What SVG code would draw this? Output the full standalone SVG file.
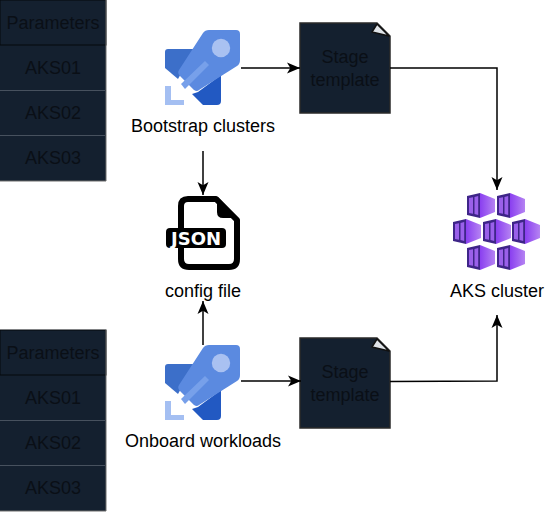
<svg xmlns="http://www.w3.org/2000/svg" xmlns:xlink="http://www.w3.org/1999/xlink" width="545" height="513" viewBox="0 0 545 513">
<style>
text{font-family:"Liberation Sans",Arial,sans-serif;font-size:18px;text-anchor:middle}
.lbl{fill:#000}
.dk{fill:#0a0f16}
.cell{fill:#14202f;stroke:none}
.hdr{fill:#14202f;stroke:#05080c;stroke-width:1}
.sep{stroke:#47515e;stroke-width:1;fill:none}
.frame{fill:none;stroke:#6c6c6c;stroke-width:1}
.doc{fill:#14202f;stroke:#2a2a2a;stroke-width:1.5}
.con{fill:none;stroke:#000;stroke-width:1.5}
</style>
<defs>
<marker id="arr" markerUnits="userSpaceOnUse" markerWidth="14" markerHeight="12" refX="13" refY="6" orient="auto">
<path d="M0,0.5L13,6L0,11.5L3.3,6Z" fill="#000"/>
</marker>
<linearGradient id="cg" x1="0" y1="0" x2="1" y2="0">
<stop offset="0" stop-color="#8a3ff0"/><stop offset="1" stop-color="#b583f2"/>
</linearGradient>
<g id="rocket">
<path d="M165,52Q165,49 168,49L195,49L178,79L165,68Z" fill="#3c6fc9"/>
<path d="M198,92L221,75L221,101Q221,105 217,105L203,105L192,94Z" fill="#2259c2"/>
<path d="M165,86H171V100H184V105H165Z" fill="#a4bff2"/>
<path d="M203,33Q205,30 209,30L236,30Q240,30 240,34L240,60Q240,64 237,66L199,90Q197,92 194,90L180,76Q177,73 179,70Z" fill="#5b8ae0"/>
<path d="M205,61L209,65L185,89L181,84Z" fill="#77a0ea"/>
<circle cx="221" cy="48" r="9.2" fill="#a9c1f1"/>
</g>
<g id="cube">
<path d="M13,0L28,6V19L13,25Z" fill="url(#cg)"/>
<path d="M0,3L13,0V25L0,22Z" fill="#3e2588"/>
<path d="M2,5L6,4.3V20.8L2,20Z" fill="#9a60ea"/>
<path d="M7.500,4L11.200,3V22L7.500,21Z" fill="#9a60ea"/>
</g>
</defs>

<g id="table-top">
<rect class="cell" x="0" y="0" width="106" height="181"/>
<rect class="hdr" x="0" y="0" width="106" height="45"/>
<path class="sep" d="M0,90.500H105M0,135.500H105"/>
<path class="frame" d="M106,0V181H0"/>
<text class="dk" x="53" y="29">Parameters</text>
<text class="dk" x="53" y="74">AKS01</text>
<text class="dk" x="53" y="119">AKS02</text>
<text class="dk" x="53" y="164">AKS03</text>
</g>

<g id="table-bottom">
<rect class="cell" x="0" y="330" width="106" height="181"/>
<rect class="hdr" x="0" y="330" width="106" height="45"/>
<path class="sep" d="M0,420.500H105M0,465.500H105"/>
<path class="frame" d="M106,330V511H0"/>
<text class="dk" x="53" y="359">Parameters</text>
<text class="dk" x="53" y="404">AKS01</text>
<text class="dk" x="53" y="449">AKS02</text>
<text class="dk" x="53" y="494">AKS03</text>
</g>

<g id="bootstrap">
<use href="#rocket" xlink:href="#rocket"/>
<text class="lbl" x="203" y="132">Bootstrap clusters</text>
</g>

<g id="onboard">
<use href="#rocket" xlink:href="#rocket" y="315"/>
<text class="lbl" x="203" y="447">Onboard workloads</text>
</g>

<g id="stage-top">
<path class="doc" d="M300,23H377L390,36V113H300Z"/>
<path d="M377,24L372,32L389,36Z" fill="#dfe3e8" stroke="#111" stroke-width="1.500" stroke-linejoin="round"/>
<text class="dk" x="345" y="63">Stage</text>
<text class="dk" x="345" y="86">template</text>
</g>

<g id="stage-bottom">
<path class="doc" d="M300,338H377L390,351V428H300Z"/>
<path d="M377,339L372,347L389,351Z" fill="#dfe3e8" stroke="#111" stroke-width="1.500" stroke-linejoin="round"/>
<text class="dk" x="345" y="378">Stage</text>
<text class="dk" x="345" y="401">template</text>
</g>

<g id="config">
<path d="M188,199H216L237,220V259Q237,267 229,267H189Q181,267 181,259V206Q181,199 188,199Z" fill="#fff" stroke="#000" stroke-width="6" stroke-linejoin="round"/>
<path d="M217,198V212Q217,218 223,218H238L218,197Z" fill="#000"/>
<rect x="166" y="228" width="60" height="20" rx="4" fill="#000"/>
<text x="196" y="244.500" style="font-family:'DejaVu Sans',sans-serif;font-weight:bold;font-size:18px;fill:#fff">JSON</text>
<text class="lbl" x="203" y="297">config file</text>
</g>

<g id="aks">
<use href="#cube" xlink:href="#cube" x="467" y="193"/>
<use href="#cube" xlink:href="#cube" x="497" y="193"/>
<use href="#cube" xlink:href="#cube" x="453" y="219"/>
<use href="#cube" xlink:href="#cube" x="483" y="219"/>
<use href="#cube" xlink:href="#cube" x="512" y="219"/>
<use href="#cube" xlink:href="#cube" x="467" y="245"/>
<use href="#cube" xlink:href="#cube" x="497" y="245"/>
<text class="lbl" x="497" y="297">AKS cluster</text>
</g>

<g id="connectors">
<path class="con" marker-end="url(#arr)" d="M241,68H300"/>
<path class="con" marker-end="url(#arr)" d="M390,68H497V190"/>
<path class="con" marker-end="url(#arr)" d="M203,151V195"/>
<path class="con" marker-end="url(#arr)" d="M203,345V301"/>
<path class="con" marker-end="url(#arr)" d="M241,381H301"/>
<path class="con" marker-end="url(#arr)" d="M390,381.500L497,381V315"/>
</g>
</svg>
